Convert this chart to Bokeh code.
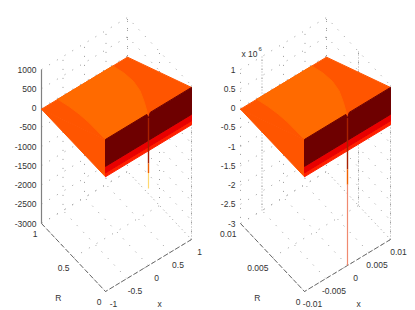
from bokeh.plotting import figure
from bokeh.layouts import row
from bokeh.models import Range1d
from bokeh.core.properties import value
from bokeh.embed import file_html
from bokeh.resources import INLINE

# --- values ---
z_ticks_left = [1000, 500, 0, -500, -1000, -1500, -2000, -2500, -3000]
z_labels_left = ["1000", "500", "0", "-500", "-1000", "-1500", "-2000", "-2500", "-3000"]
z_ticks_right = [1e6, 5e5, 0, -5e5, -1e6, -1.5e6, -2e6, -2.5e6, -3e6]
z_labels_right = ["1", "0.5", "0", "-0.5", "-1", "-1.5", "-2", "-2.5", "-3"]
x_ticks_left = [-1, -0.5, 0, 0.5, 1]
x_labels_left = ["-1", "-0.5", "0", "0.5", "1"]
x_ticks_right = [-0.01, -0.005, 0, 0.005, 0.01]
x_labels_right = ["-0.01", "-0.005", "0", "0.005", "0.01"]
r_ticks_left = [0, 0.5, 1]
r_labels_left = ["0", "0.5", "1"]
r_ticks_right = [0, 0.005, 0.01]
r_labels_right = ["0", "0.005", "0.01"]

# surface heights in units of the top z tick
plane_high = 0.95      # at R = 0
plane_low = -0.03      # at R = max
wall_band_1 = 0.25     # dark / red
wall_band_2 = 0.08     # red / lower red
wall_base = -0.02
spike_left = [-0.35, -0.6, -1.0]     # orange, brown, yellow tips
spike_right = [-0.5, -0.9, -3.0]
# contours of the lit band, x / xmax against R / Rmax
band_a_x = [-0.62, -0.66, -0.72, -0.8, -0.9, -1.0]
band_a_r = [1.0, 0.8, 0.6, 0.4, 0.2, 0.0]
band_b_x = [0.66, 0.62, 0.54, 0.4, 0.2, -0.02]
band_b_r = [1.0, 0.8, 0.6, 0.4, 0.2, 0.0]

ORANGE_D = "#ff5500"
ORANGE_L = "#ff6a00"
WALL_DARK = "#6e0000"
RED = "#e80000"
RED2 = "#ff2000"
GRID = "#9a9a9a"
TXT = "#333333"
FONT = value("Liberation Sans")


def panel(x0, x1, shift, xt, xl, rt, rl, zt, zl, zunit, spike, solid_axis, exponent):
    xmax = xt[-1]
    rmax = rt[-1]

    def px(x, r):
        return 41 + shift + 86 * (x / xmax + 1) / 2 + 64 * (1 - r / rmax)

    def py(x, r, z):
        return 223 - 52 * (x / xmax + 1) / 2 + 68 * (1 - r / rmax) - 38.5 * (z + 3)

    def P(pts):
        # pts: (x fraction, R fraction, z in scale units)
        return ([px(a * xmax, b * rmax) for a, b, c in pts],
                [py(a * xmax, b * rmax, c) for a, b, c in pts])

    def height(r):
        return plane_low + (plane_high - plane_low) * (1 - r)

    p = figure(width=x1 - x0, height=308, toolbar_location=None, output_backend="svg",
               x_range=Range1d(x0, x1), y_range=Range1d(308, 0), min_border=0,
               outline_line_color=None)
    p.xaxis.visible = False
    p.yaxis.visible = False
    p.xgrid.visible = False
    p.ygrid.visible = False
    p.background_fill_color = "white"
    p.border_fill_color = None

    zmax, zmin = zt[0] / zunit, zt[-1] / zunit

    # box grid (dotted)
    dash = dict(line_color=GRID, line_width=1, line_dash="1 8")
    for t in xt:
        f = t / xmax
        xs, ys = P([(f, 0, zmin), (f, 1, zmin), (f, 1, zmax)])
        p.line(xs, ys, **dash)
    for t in rt:
        f = t / rmax
        xs, ys = P([(-1, f, zmin), (1, f, zmin), (1, f, zmax)])
        p.line(xs, ys, **dash)
    for t in zt:
        xs, ys = P([(-1, 1, t / zunit), (1, 1, t / zunit), (1, 0, t / zunit)])
        p.line(xs, ys, **dash)

    # denser dotted box verticals
    dense = dict(line_color="#aaaaaa", line_width=1, line_dash="1 2")
    xs, ys = P([(1, 0, zmin), (1, 0, zmax)])
    p.line(xs, ys, **dense)
    if not solid_axis:
        xs, ys = P([(xt[1] / xmax, 1, zmin), (xt[1] / xmax, 1, zmax)])
        p.line(xs, ys, **dense)
        xs, ys = P([(1, rt[1] / rmax, zmin), (1, rt[1] / rmax, zmax)])
        p.line(xs, ys, **dense)

    # axes
    xs, ys = P([(-1, 1, zmin), (-1, 0, zmin), (1, 0, zmin)])
    p.line(xs, ys, line_color="#666666", line_width=1, line_dash="5 2")
    if solid_axis:
        xs, ys = P([(-1, 1, zmin), (-1, 1, zmax)])
        p.line(xs, ys, line_color="#808080", line_width=1.2)

    # surface, bands
    pts = [(-1, 1, height(1)), (1, 1, height(1)), (1, 0, height(0)), (-1, 0, height(0))]
    xs, ys = P(pts)
    p.patch(xs, ys, fill_color=ORANGE_D, line_color=ORANGE_D)
    lit = [(a, b, height(b)) for a, b in zip(band_a_x, band_a_r)]
    lit += [(a, b, height(b)) for a, b in reversed(list(zip(band_b_x, band_b_r)))]
    xs, ys = P(lit)
    p.patch(xs, ys, fill_color=ORANGE_L, line_color=ORANGE_L)

    # left skirt of the surface, x = -1
    xs, ys = P([(-1, 1, height(1)), (-1, 0, height(0)), (-1, 0, wall_base)])
    p.patch(xs, ys, fill_color=ORANGE_D, line_color=ORANGE_D)

    # wall at R = 0
    xs, ys = P([(-1, 0, wall_base), (1, 0, wall_base), (1, 0, wall_band_2), (-1, 0, wall_band_2)])
    p.patch(xs, ys, fill_color=RED2, line_color=RED2)
    xs, ys = P([(-1, 0, wall_band_2), (1, 0, wall_band_2), (1, 0, wall_band_1), (-1, 0, wall_band_1)])
    p.patch(xs, ys, fill_color=RED, line_color=RED)
    # the small dip of the wall's top edge at x = 0 shows the surface behind it
    xs, ys = P([(-0.04, 0, height(0)), (0.04, 0, height(0)), (0, 0, height(0) - 0.12)])
    p.patch(xs, ys, fill_color=ORANGE_D, line_color=ORANGE_D)
    xs, ys = P([(-1, 0, wall_band_1), (1, 0, wall_band_1), (1, 0, height(0)), (0.04, 0, height(0)),
                (0, 0, height(0) - 0.12), (-0.04, 0, height(0)), (-1, 0, height(0))])
    p.patch(xs, ys, fill_color=WALL_DARK, line_color=WALL_DARK)

    # spike at x = 0, R = 0
    xs, ys = P([(0, 0, height(0) - 0.12), (0, 0, spike[0])])
    p.line(xs, ys, line_color="#a82000", line_width=1.4)
    xs, ys = P([(0, 0, spike[0]), (0, 0, spike[1])])
    p.line(xs, ys, line_color="#f06000", line_width=1.4)
    xs, ys = P([(0, 0, spike[1]), (0, 0, spike[2])])
    p.line(xs, ys, line_color="#ffd870" if solid_axis else "#f08a70", line_width=1.2)

    # tick labels
    text = dict(text_font=FONT, text_font_size="8.5px", text_color=TXT, text_baseline="middle")
    xs, ys = P([(-1, 1, t / zunit) for t in zt])
    p.text(xs, ys, text=zl, x_offset=-5, text_align="right", **text)
    xs, ys = P([(t / xmax, 0, zmin) for t in xt])
    p.text(xs, ys, text=xl, x_offset=8, y_offset=12, text_align="center", **text)
    xs, ys = P([(-1, t / rmax, zmin) for t in rt])
    p.text(xs, ys, text=rl, x_offset=-4, y_offset=10, text_align="right", **text)
    xs, ys = P([(0, 0, zmin)])
    p.text(xs, ys, text=["x"], x_offset=11, y_offset=38, text_align="center", **text)
    xs, ys = P([(-1, 0.3, zmin)])
    p.text(xs, ys, text=["R"], x_offset=-28, y_offset=27, text_align="center", **text)
    if exponent:
        xs, ys = P([(-1, 1, zmax)])
        p.text(xs, ys, text=["x 10"], x_offset=1, y_offset=-16, text_align="left", **text)
        p.text(xs, ys, text=[exponent], x_offset=18, y_offset=-21, text_align="left",
               text_font=FONT, text_font_size="6px", text_color=TXT, text_baseline="middle")
    return p


left = panel(0, 207, 0, x_ticks_left, x_labels_left, r_ticks_left, r_labels_left,
             z_ticks_left, z_labels_left, 1000, spike_left, True, None)
right = panel(207, 413, 199, x_ticks_right, x_labels_right, r_ticks_right, r_labels_right,
              z_ticks_right, z_labels_right, 1e6, spike_right, False, "6")
page = row(left, right, spacing=0)
open("out.html", "w").write(file_html(page, INLINE))
